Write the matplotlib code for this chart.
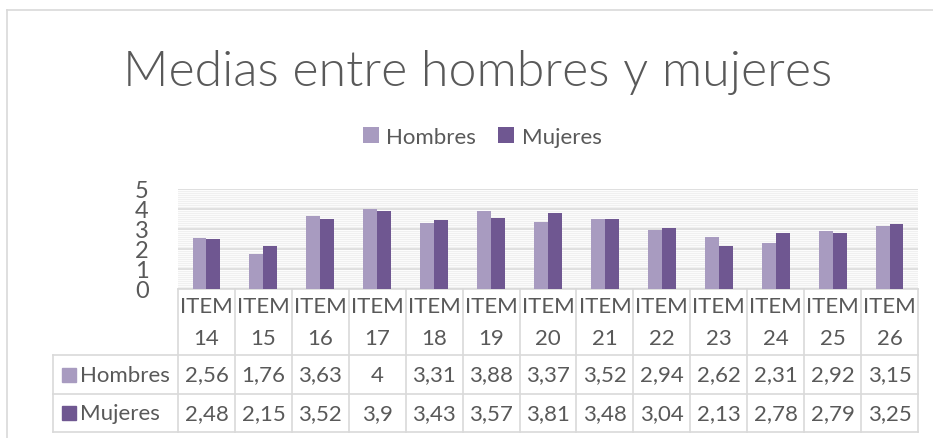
import matplotlib.pyplot as plt
import numpy as np
from matplotlib.transforms import blended_transform_factory
from matplotlib.patches import Rectangle

items = ["ITEM\n14", "ITEM\n15", "ITEM\n16", "ITEM\n17", "ITEM\n18", "ITEM\n19", "ITEM\n20",
         "ITEM\n21", "ITEM\n22", "ITEM\n23", "ITEM\n24", "ITEM\n25", "ITEM\n26"]
hombres = [2.56, 1.76, 3.63, 4, 3.31, 3.88, 3.37, 3.52, 2.94, 2.62, 2.31, 2.92, 3.15]
mujeres = [2.48, 2.15, 3.52, 3.9, 3.43, 3.57, 3.81, 3.48, 3.04, 2.13, 2.78, 2.79, 3.25]
series = ["Hombres", "Mujeres"]
colors = ["#A89BC0", "#6F5791"]

txt = "#595959"
line = "#D9D9D9"
plt.rcParams["font.family"] = ["Lato", "DejaVu Sans"]

fig = plt.figure(figsize=(9.33, 4.39), dpi=100)
W, H = 933, 439
ax = fig.add_axes([178 / W, 1 - 290 / H, 740 / W, 100 / H])

x = np.arange(len(items))
bw = 0.245
ax.bar(x - bw / 2, hombres, bw, color=colors[0], label=series[0], zorder=3)
ax.bar(x + bw / 2, mujeres, bw, color=colors[1], label=series[1], zorder=3)

ax.set_xlim(-0.5, len(items) - 0.5)
ax.set_ylim(0, 5)
ax.set_yticks(range(6))
ax.set_yticks(np.arange(0, 5.01, 0.1), minor=True)
ax.grid(axis="y", which="minor", color="#F0F0F0", lw=0.9, zorder=0)
ax.grid(axis="y", which="major", color=line, lw=1.2, zorder=1)
ax.tick_params(axis="y", which="both", length=0, labelsize=17, labelcolor=txt, pad=21)
ax.set_xticks([])
for s in ax.spines.values():
    s.set_visible(False)

# data table below the bars
tr = blended_transform_factory(ax.transData, ax.transAxes)
rows_y = [0, -0.66, -1.05, -1.43]
left = -2.69
n = len(items)
ax.plot([-0.5, n - 0.5], [0, 0], color=line, lw=1.2, transform=tr, clip_on=False)
for yy in rows_y[1:]:
    ax.plot([left, n - 0.5], [yy, yy], color=line, lw=1.2, transform=tr, clip_on=False)
ax.plot([left, left], [rows_y[1], rows_y[3]], color=line, lw=1.2, transform=tr, clip_on=False)
for i in range(n + 1):
    ax.plot([i - 0.5, i - 0.5], [0, rows_y[3]], color=line, lw=1.2, transform=tr, clip_on=False)

for i, lab in enumerate(items):
    ax.text(i, (rows_y[0] + rows_y[1]) / 2, lab, transform=tr, ha="center", va="center",
            fontsize=16, color=txt, linespacing=1.7)
for r, vals in enumerate([hombres, mujeres]):
    yc = (rows_y[r + 1] + rows_y[r + 2]) / 2
    for i, v in enumerate(vals):
        s = f"{v:g}".replace(".", ",")
        ax.text(i, yc, s, transform=tr, ha="center", va="center", fontsize=16, color=txt)
    ax.add_patch(Rectangle((left + 0.15, yc - 0.07), 0.24, 0.14, transform=tr,
                           color=colors[r], clip_on=False))
    ax.text(left + 0.47, yc, series[r], transform=tr, ha="left", va="center",
            fontsize=16, color=txt)

fig.text(0.512, 0.835, "Medias entre hombres y mujeres", ha="center", va="center",
         fontsize=36, color=txt, fontweight=300)
fig.legend(loc="center", bbox_to_anchor=(0.517, 0.686), ncol=2, frameon=False,
           fontsize=16, labelcolor=txt, handlelength=0.7, handleheight=0.7,
           columnspacing=1.0, handletextpad=0.35)

# chart border (top and left edges visible)
fig.add_artist(plt.Line2D([7 / W, 7 / W], [0, 1 - 11 / H], color=line, lw=1.2))
fig.add_artist(plt.Line2D([7 / W, 1], [1 - 11 / H, 1 - 11 / H], color=line, lw=1.2))

fig.savefig("out.png", dpi=100, facecolor="white")
